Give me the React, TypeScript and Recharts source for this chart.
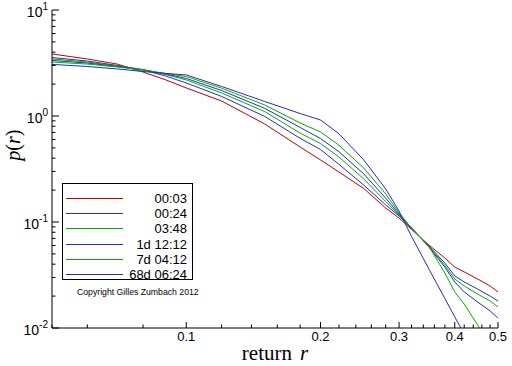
import React from 'react';
import { LineChart, Line, XAxis, YAxis, Legend } from 'recharts';

// return values r (x axis, log scale)
const R_VALUES = [0.05, 0.06, 0.07, 0.08, 0.09, 0.1, 0.12, 0.15, 0.18, 0.2, 0.22, 0.25, 0.28, 0.3, 0.32, 0.35, 0.38, 0.4, 0.42, 0.45, 0.48, 0.5];

// p(r) for each time horizon
const P_0003 = [3.85, 3.45, 3.09, 2.6, 2.19, 1.84, 1.385, 0.84, 0.51, 0.385, 0.296, 0.207, 0.1355, 0.109, 0.085, 0.0607, 0.0457, 0.0376, 0.0338, 0.029, 0.0249, 0.0219];
const P_0024 = [3.56, 3.3, 3.0, 2.72, 2.38, 2.05, 1.53, 0.99, 0.616, 0.483, 0.35, 0.223, 0.145, 0.114, 0.087, 0.0594, 0.041, 0.031, 0.0272, 0.0233, 0.02, 0.018];
const P_0348 = [3.45, 3.23, 2.96, 2.75, 2.46, 2.19, 1.65, 1.1, 0.69, 0.55, 0.41, 0.255, 0.156, 0.116, 0.088, 0.059, 0.039, 0.029, 0.0249, 0.0209, 0.018, 0.0158];
const P_1D = [3.34, 3.16, 2.93, 2.72, 2.49, 2.26, 1.74, 1.18, 0.78, 0.613, 0.46, 0.284, 0.168, 0.119, 0.088, 0.058, 0.0375, 0.0272, 0.0219, 0.0176, 0.0145, 0.0124];
const P_7D = [3.23, 3.09, 2.9, 2.72, 2.52, 2.36, 1.83, 1.27, 0.859, 0.707, 0.53, 0.323, 0.184, 0.122, 0.087, 0.059, 0.033, 0.0219, 0.0168, 0.0107, 0.0069, null];
const P_68D = [3.07, 2.93, 2.78, 2.63, 2.52, 2.44, 1.9, 1.37, 1.056, 0.917, 0.68, 0.385, 0.205, 0.127, 0.073, 0.036, 0.019, 0.0127, 0.00878, null, null, null];

const SERIES_NAMES = ['00:03', '00:24', '03:48', '1d 12:12', '7d 04:12', '68d 06:24'];
const SERIES_COLORS = ['#c00000', '#2a2ac0', '#00b000', '#2a2ac0', '#00b000', '#2a2ac0'];
const SERIES_VALUES = [P_0003, P_0024, P_0348, P_1D, P_7D, P_68D];

const X_TICKS = [0.05, 0.06, 0.08, 0.1, 0.12, 0.14, 0.16, 0.18, 0.2, 0.22, 0.24, 0.26, 0.28, 0.3, 0.32, 0.34, 0.36, 0.38, 0.4, 0.42, 0.44, 0.46, 0.48, 0.5];
const X_MAJOR = ['0.1', '0.2', '0.3', '0.4', '0.5'];
const Y_TICKS = [
  0.01, 0.02, 0.03, 0.04, 0.05, 0.06, 0.07, 0.08, 0.09,
  0.1, 0.2, 0.3, 0.4, 0.5, 0.6, 0.7, 0.8, 0.9,
  1, 2, 3, 4, 5, 6, 7, 8, 9, 10,
];
const Y_MAJOR = [0.01, 0.1, 1, 10];

const data = R_VALUES.map((r, i) => {
  const row: Record<string, number | null> = { r };
  SERIES_VALUES.forEach((vals, k) => {
    row[`s${k}`] = vals[i];
  });
  return row;
});

const SANS = '"Liberation Sans", Arial, sans-serif';
const SERIF = '"Liberation Serif", "Times New Roman", serif';

const XTick = (props: any) => {
  const { x, y, payload } = props;
  const label = String(Number(payload.value.toFixed(2)));
  const major = X_MAJOR.includes(label);
  return (
    <g>
      <line x1={x} x2={x} y1={y} y2={y - (major ? 6 : 3.5)} stroke="#000" />
      {major && (
        <text x={x} y={y + 13} textAnchor="middle" fontSize={13} fontFamily={SANS} fill="#000">
          {label}
        </text>
      )}
    </g>
  );
};

const YTick = (props: any) => {
  const { x, y, payload } = props;
  const v = payload.value;
  const major = Y_MAJOR.some((m) => Math.abs(m - v) < 1e-9);
  const exp = Math.round(Math.log10(v));
  return (
    <g>
      <line x1={x} x2={x + (major ? 7 : 3.5)} y1={y} y2={y} stroke="#000" />
      {major && (
        <text x={x - 4} y={y + 7} textAnchor="end" fontSize={14} fontFamily={SANS} fill="#000">
          10
          <tspan dy={-7} fontSize={10}>
            {exp}
          </tspan>
        </text>
      )}
    </g>
  );
};

const XLabel = (props: any) => {
  const { viewBox } = props;
  const cx = viewBox.x + viewBox.width / 2;
  return (
    <text x={cx} y={viewBox.y + 32} textAnchor="middle" fontSize={21} fontFamily={SERIF} fill="#000">
      return
      <tspan dx={8} fontStyle="italic">r</tspan>
    </text>
  );
};

const YLabel = (props: any) => {
  const { viewBox } = props;
  const cx = 20;
  const cy = viewBox.y + viewBox.height * 0.425;
  return (
    <text
      x={cx}
      y={cy}
      transform={`rotate(-90 ${cx} ${cy})`}
      textAnchor="middle"
      fontSize={20}
      fontFamily={SERIF}
      fill="#000"
    >
      <tspan fontStyle="italic">p</tspan>(<tspan fontStyle="italic">r</tspan>)
    </text>
  );
};

const renderLegend = () => (
  <div style={{ fontFamily: SANS, color: '#000' }}>
    <div
      style={{
        border: '1px solid #000',
        width: 131,
        height: 97,
        boxSizing: 'border-box',
        paddingTop: 7,
        paddingLeft: 3,
        paddingRight: 5,
        background: '#fff',
      }}
    >
      {SERIES_NAMES.map((name, i) => (
        <div key={name} style={{ display: 'flex', alignItems: 'center', height: 15.2 }}>
          <span style={{ width: 57, borderTop: `1px solid ${SERIES_COLORS[i]}` }} />
          <span style={{ flex: 1, textAlign: 'right', fontSize: 13, lineHeight: '15px' }}>{name}</span>
        </div>
      ))}
    </div>
    <div style={{ fontSize: 8.7, marginTop: 7, marginLeft: 15, whiteSpace: 'nowrap' }}>
      Copyright Gilles Zumbach 2012
    </div>
  </div>
);

export default function App() {
  return (
    <div style={{ position: 'absolute', left: 0, top: 0, width: 512, height: 366, background: '#fff' }}>
      <LineChart width={512} height={366} data={data} margin={{ top: 10, right: 14, bottom: 8, left: 8 }}>
        <XAxis
          dataKey="r"
          type="number"
          scale="log"
          domain={[0.05, 0.5]}
          allowDataOverflow
          ticks={X_TICKS}
          interval={0}
          tickSize={0}
          tickMargin={0}
          tickLine={false}
          tick={<XTick />}
          height={30}
          axisLine={{ stroke: '#000' }}
          label={<XLabel />}
        />
        <YAxis
          type="number"
          scale="log"
          domain={[0.01, 10]}
          allowDataOverflow
          ticks={Y_TICKS}
          interval={0}
          tickSize={0}
          tickMargin={0}
          tickLine={false}
          tick={<YTick />}
          width={44}
          axisLine={{ stroke: '#000' }}
          label={<YLabel />}
        />
        <Legend
          layout="vertical"
          align="center"
          verticalAlign="middle"
          content={renderLegend}
          wrapperStyle={{ left: 62, top: 183, width: 140, height: 120 }}
        />
        {SERIES_NAMES.map((name, k) => (
          <Line
            key={name}
            dataKey={`s${k}`}
            name={name}
            stroke={SERIES_COLORS[k]}
            strokeWidth={1}
            dot={false}
            activeDot={false}
            type="linear"
            isAnimationActive={false}
          />
        ))}
      </LineChart>
    </div>
  );
}
